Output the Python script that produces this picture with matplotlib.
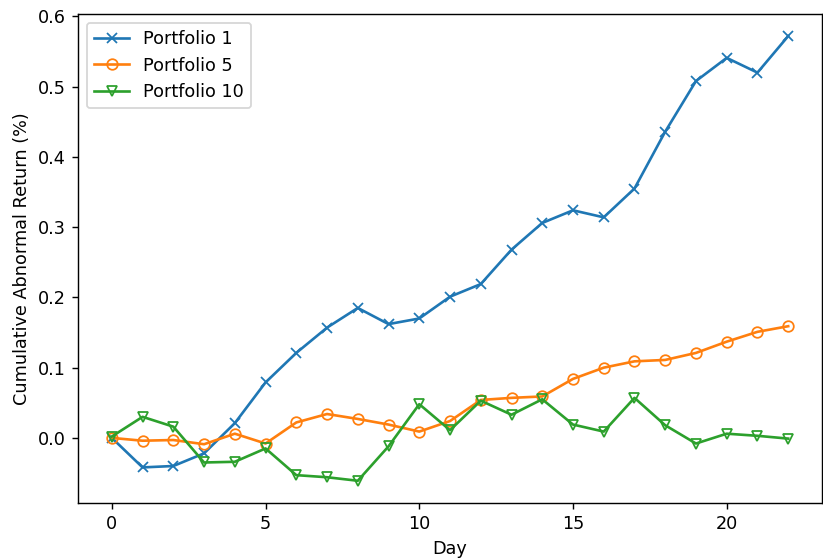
import matplotlib
matplotlib.use("Agg")
import matplotlib.pyplot as plt

# cumulative abnormal return (%) by day after the event, three portfolios
days = list(range(23))
port1 = [0.000, -0.042, -0.040, -0.022, 0.021, 0.079, 0.121, 0.157, 0.185, 0.162,
         0.170, 0.201, 0.219, 0.268, 0.306, 0.324, 0.314, 0.355, 0.436, 0.508,
         0.541, 0.520, 0.572]
port5 = [0.000, -0.004, -0.003, -0.009, 0.006, -0.008, 0.022, 0.034, 0.027, 0.019,
         0.009, 0.024, 0.054, 0.057, 0.059, 0.084, 0.100, 0.109, 0.111, 0.121,
         0.137, 0.151, 0.159]
port10 = [0.002, 0.030, 0.016, -0.035, -0.034, -0.015, -0.053, -0.056, -0.061, -0.012,
          0.048, 0.011, 0.053, 0.033, 0.055, 0.019, 0.009, 0.057, 0.018, -0.008,
          0.006, 0.003, -0.001]

DPI = 127
fig = plt.figure(figsize=(823 / DPI, 559 / DPI), dpi=DPI)
ax = fig.add_axes([0.0948, 0.1002, 0.904, 0.875])

ax.plot(days, port1, marker="x", color="#1f77b4", label="Portfolio 1")
ax.plot(days, port5, marker="o", mfc="none", color="#ff7f0e", label="Portfolio 5")
ax.plot(days, port10, marker="v", mfc="none", color="#2ca02c", label="Portfolio 10")

ax.set_xlabel("Day")
ax.set_ylabel("Cumulative Abnormal Return (%)")
ax.legend(loc="upper left")

fig.savefig("out.png", dpi=DPI)
